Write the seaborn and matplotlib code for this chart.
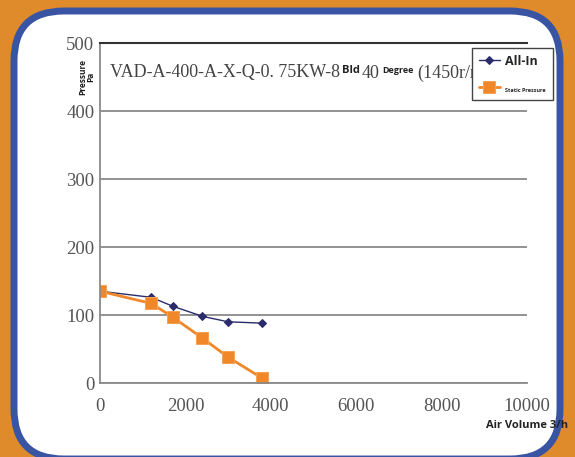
import matplotlib
matplotlib.use("Agg")
import matplotlib.pyplot as plt
from matplotlib.patches import FancyBboxPatch
import pandas as pd
import seaborn as sns

# curve data
air_volume = [0, 1200, 1700, 2400, 3000, 3800]
all_in = [135, 126, 113, 98, 90, 88]
static_pressure = [135, 117, 97, 66, 38, 7]

x_ticks = [0, 2000, 4000, 6000, 8000, 10000]
y_ticks = [0, 100, 200, 300, 400, 500]

df = pd.DataFrame({
    "volume": air_volume * 2,
    "pressure": all_in + static_pressure,
    "curve": ["All-In"] * len(air_volume) + ["Static Pressure"] * len(air_volume),
})

sns.set_style("white")
serif = ["Liberation Serif", "DejaVu Serif"]
sans = ["Open Sans", "DejaVu Sans"]

fig = plt.figure(figsize=(5.75, 4.57), dpi=100)
fig.patch.set_facecolor("#DF8B2C")

# rounded white panel with blue border
bg = fig.add_axes([0, 0, 1, 1])
bg.set_xlim(0, 575)
bg.set_ylim(457, 0)
bg.axis("off")
bg.add_patch(FancyBboxPatch((14, 11), 546, 448, boxstyle="round,pad=0,rounding_size=50",
                            facecolor="white", edgecolor="#3A54A4", linewidth=5))

ax = fig.add_axes([100 / 575, 1 - 383 / 457, 427 / 575, 340 / 457])
ax.set_facecolor("white")

sns.lineplot(data=df[df["curve"] == "All-In"], x="volume", y="pressure", ax=ax,
             color="#2A2C6C", marker="D", markersize=4, linewidth=1, label="All-In",
             markeredgecolor="#2A2C6C")
sns.lineplot(data=df[df["curve"] == "Static Pressure"], x="volume", y="pressure", ax=ax,
             color="#F0882A", marker="s", markersize=8, linewidth=2, label="Static Pressure",
             markeredgecolor="#F6A256")

ax.set_xlim(0, 10000)
ax.set_ylim(0, 500)
ax.set_xticks(x_ticks)
ax.set_yticks(y_ticks)
ax.set_xticklabels([str(v) for v in x_ticks], family=serif, fontsize=13.5, color="#555555")
ax.set_yticklabels([str(v) for v in y_ticks], family=serif, fontsize=13.5, color="#555555")
ax.tick_params(axis="x", direction="in", length=5, color="#888888", pad=11)
ax.tick_params(axis="y", length=0, pad=4)
ax.yaxis.grid(True, color="#8a8a8a", linewidth=1.3)
ax.set_axisbelow(True)
ax.set_xlabel("")
ax.set_ylabel("")

for side in ["left", "bottom"]:
    ax.spines[side].set_color("#8a8a8a")
    ax.spines[side].set_linewidth(1.3)
ax.spines["top"].set_color("#333333")
ax.spines["top"].set_linewidth(1.5)
ax.spines["right"].set_visible(False)

# model title inside the plot, each piece chained after the previous one
ty = 1 - (73 - 43) / 340
big = dict(family=serif, fontsize=13, color="#444444", va="center", ha="left")
small = dict(family=sans, fontweight="bold", color="#222222", va="center", ha="left")
t1 = ax.text(10 / 427, ty, "VAD-A-400-A-X-Q-0. 75KW-8", transform=ax.transAxes, **big)
t2 = ax.annotate("Bld", xy=(1, 0.5), xycoords=t1, xytext=(1.5, 1.5),
                 textcoords="offset points", fontsize=8, **small)
t3 = ax.annotate("40", xy=(1, 0.5), xycoords=t2, xytext=(1.5, -1.5),
                 textcoords="offset points", **big)
t4 = ax.annotate("Degree", xy=(1, 0.5), xycoords=t3, xytext=(2, 1.5),
                 textcoords="offset points", fontsize=6.5, **small)
t5 = ax.annotate("(1450r/min)", xy=(1, 0.5), xycoords=t4, xytext=(2, -1.5),
                 textcoords="offset points", **big)

leg = ax.legend(loc="upper left", bbox_to_anchor=(472 / 575, 1 - 48 / 457),
                bbox_transform=fig.transFigure, borderaxespad=0, fancybox=False,
                frameon=True, edgecolor="#444444", handlelength=1.5, handletextpad=0.4,
                labelspacing=1.0, borderpad=0.5, framealpha=1)
leg.get_frame().set_linewidth(1)
leg.set_zorder(10)
texts = leg.get_texts()
texts[0].set_fontsize(9)
texts[0].set_fontweight("bold")
texts[0].set_family(sans)
texts[1].set_fontsize(4)
texts[1].set_fontweight("bold")
texts[1].set_family(sans)

fig.text(87 / 575, 1 - 77 / 457, "Pressure\nPa", rotation=90, ha="center", va="center",
         family=sans, fontsize=6, fontweight="bold", color="#222222", linespacing=0.9)
fig.text(527 / 575, 1 - 425 / 457, "Air Volume 3/h", ha="center", va="center",
         family=sans, fontsize=8, fontweight="bold", color="#222222")

fig.savefig("out.png", dpi=100, facecolor=fig.get_facecolor())
